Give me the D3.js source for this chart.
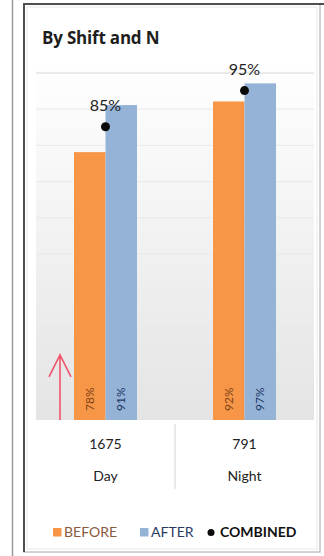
<!DOCTYPE html>
<html>
<head>
<meta charset="utf-8">
<script src="https://cdn.jsdelivr.net/npm/d3@7"></script>
<style>
  html, body { margin: 0; padding: 0; background: #fff; }
  svg { display: block; font-family: 'Lato', 'Open Sans', sans-serif; }
</style>
</head>
<body>
<div id="chart"></div>
<script>
// chart values
const categories = ['Day', 'Night']
const counts = ['1675', '791']
const seriesNames = ['BEFORE', 'AFTER']
const beforeValues = [0.78, 0.92]
const afterValues = [0.91, 0.97]
const combinedValues = [0.85, 0.95]
const gridTicks = [0.1, 0.2, 0.3, 0.4, 0.5, 0.6, 0.7, 0.8, 0.9, 1.0]

const width = 324
const height = 556
const plot = { left: 36, right: 314, top: 60, bottom: 420 }

const colors = { BEFORE: '#f79646', AFTER: '#95b3d7' }

const svg = d3
  .select('#chart')
  .append('svg')
  .attr('width', width)
  .attr('height', height)

// left neighbour panel edge
svg.append('line')
  .attr('x1', 12.5).attr('x2', 12.5)
  .attr('y1', 0).attr('y2', height)
  .attr('stroke', '#9a9a9a')
  .attr('stroke-width', 1.5)

// panel frame: dark left/top, light right/bottom
svg.append('rect')
  .attr('x', 24).attr('y', 4)
  .attr('width', 296).attr('height', 548)
  .attr('fill', '#fff')
  .attr('stroke', '#c4c4c4')
  .attr('stroke-width', 1.5)
svg.append('path')
  .attr('d', 'M24,552 L24,4 L324,4')
  .attr('fill', 'none')
  .attr('stroke', '#4e4e4e')
  .attr('stroke-width', 2)
svg.append('rect')
  .attr('x', 27).attr('y', 7)
  .attr('width', 290).attr('height', 542)
  .attr('fill', 'none')
  .attr('stroke', '#e8e8e8')
  .attr('stroke-width', 1)

const defs = svg.append('defs')
const grad = defs.append('linearGradient')
  .attr('id', 'bg')
  .attr('gradientUnits', 'userSpaceOnUse')
  .attr('x1', 0).attr('x2', 0)
  .attr('y1', plot.top).attr('y2', plot.bottom)
grad.append('stop').attr('offset', '0%').attr('stop-color', '#ffffff')
grad.append('stop').attr('offset', '45%').attr('stop-color', '#f3f3f3')
grad.append('stop').attr('offset', '100%').attr('stop-color', '#e4e4e4')

svg.append('rect')
  .attr('x', plot.left).attr('y', plot.top)
  .attr('width', plot.right - plot.left)
  .attr('height', plot.bottom - plot.top)
  .attr('fill', 'url(#bg)')

// scales
const yScale = d3.scaleLinear().domain([0.04, 1]).range([plot.bottom, 72.5])
const x0 = d3.scaleBand().domain(categories).range([plot.left, plot.right])
const barW = 31.5
const x1 = d3.scaleBand()
  .domain(seriesNames)
  .range([x0.bandwidth() / 2 - barW, x0.bandwidth() / 2 + barW])

// gridlines
const yAxis = d3.axisLeft(yScale)
  .tickValues(gridTicks)
  .tickSize(-(plot.right - plot.left))
  .tickFormat('')
svg.append('g')
  .attr('class', 'y-axis')
  .attr('transform', `translate(${plot.left},0)`)
  .call(yAxis)
  .call(g => g.select('.domain').remove())
  .call(g => g.selectAll('.tick line')
    .attr('stroke', d => d === 1 ? '#d6d6d6' : '#e9e9e9'))

// title
svg.append('text')
  .attr('x', 42)
  .attr('y', 44)
  .attr('font-family', "'Open Sans', sans-serif")
  .attr('font-size', 17)
  .attr('font-weight', 'bold')
  .attr('letter-spacing', -0.2)
  .attr('fill', '#1e1e1e')
  .text('By Shift and N')

// bars
const rows = categories.map((c, i) => ({
  category: c,
  count: counts[i],
  combined: combinedValues[i],
  bars: [
    { key: 'BEFORE', value: beforeValues[i] },
    { key: 'AFTER', value: afterValues[i] }
  ]
}))

const groups = svg.selectAll('.group')
  .data(rows)
  .enter()
  .append('g')
  .attr('class', 'group')
  .attr('transform', d => `translate(${x0(d.category)},0)`)

groups.selectAll('rect')
  .data(d => d.bars)
  .enter()
  .append('rect')
  .attr('x', d => x1(d.key))
  .attr('width', x1.bandwidth())
  .attr('y', d => yScale(d.value))
  .attr('height', d => plot.bottom - yScale(d.value))
  .attr('fill', d => colors[d.key])

groups.selectAll('.bar-label')
  .data(d => d.bars)
  .enter()
  .append('text')
  .attr('class', 'bar-label')
  .attr('transform', d => `translate(${x1(d.key) + x1.bandwidth() / 2},${plot.bottom - 9}) rotate(-90)`)
  .attr('dy', '0.35em')
  .attr('font-size', 12)
  .attr('fill', d => d.key === 'BEFORE' ? '#7e4418' : '#1f3a66')
  .text(d => d3.format('.0%')(d.value))

// combined dots + labels
const midX = d => x0.bandwidth() / 2

groups.append('circle')
  .attr('cx', midX)
  .attr('cy', d => yScale(d.combined))
  .attr('r', 4.5)
  .attr('fill', '#0a0a0a')

groups.append('text')
  .attr('x', midX)
  .attr('y', d => yScale(d.combined) - 16)
  .attr('text-anchor', 'middle')
  .attr('font-size', 16)
  .attr('fill', '#222')
  .text(d => d3.format('.0%')(d.combined))

// red arrow annotation
const arrowX = x0('Day') + 24
const arrowTip = yScale(0.22)
svg.append('path')
  .attr('d', `M${arrowX},${plot.bottom} L${arrowX},${arrowTip} M${arrowX - 11},${arrowTip + 22} L${arrowX},${arrowTip} L${arrowX + 11},${arrowTip + 22}`)
  .attr('fill', 'none')
  .attr('stroke', '#f0556e')
  .attr('stroke-width', 1.6)

// data table below the plot
svg.append('line')
  .attr('x1', x0('Night')).attr('x2', x0('Night'))
  .attr('y1', 424).attr('y2', 489)
  .attr('stroke', '#d4d4d4')

groups.append('text')
  .attr('x', midX)
  .attr('y', 449)
  .attr('text-anchor', 'middle')
  .attr('font-size', 14)
  .attr('fill', '#222')
  .text(d => d.count)

groups.append('text')
  .attr('x', midX)
  .attr('y', 481)
  .attr('text-anchor', 'middle')
  .attr('font-size', 14)
  .attr('fill', '#222')
  .text(d => d.category)

// legend
const legend = svg.append('g').attr('transform', 'translate(0,537)')

legend.append('rect')
  .attr('x', 53).attr('y', -9)
  .attr('width', 8.5).attr('height', 8.5)
  .attr('fill', colors.BEFORE)
legend.append('text')
  .attr('x', 64).attr('y', 0)
  .attr('font-size', 14)
  .attr('fill', '#8a5a3c')
  .text('BEFORE')

legend.append('rect')
  .attr('x', 140).attr('y', -9)
  .attr('width', 8.5).attr('height', 8.5)
  .attr('fill', colors.AFTER)
legend.append('text')
  .attr('x', 151).attr('y', 0)
  .attr('font-size', 14)
  .attr('fill', '#2a3a66')
  .text('AFTER')

legend.append('circle')
  .attr('cx', 211).attr('cy', -4.5)
  .attr('r', 3.5)
  .attr('fill', '#0a0a0a')
legend.append('text')
  .attr('x', 220).attr('y', 0)
  .attr('font-size', 14)
  .attr('font-weight', 'bold')
  .attr('fill', '#111')
  .text('COMBINED')
</script>
</body>
</html>
